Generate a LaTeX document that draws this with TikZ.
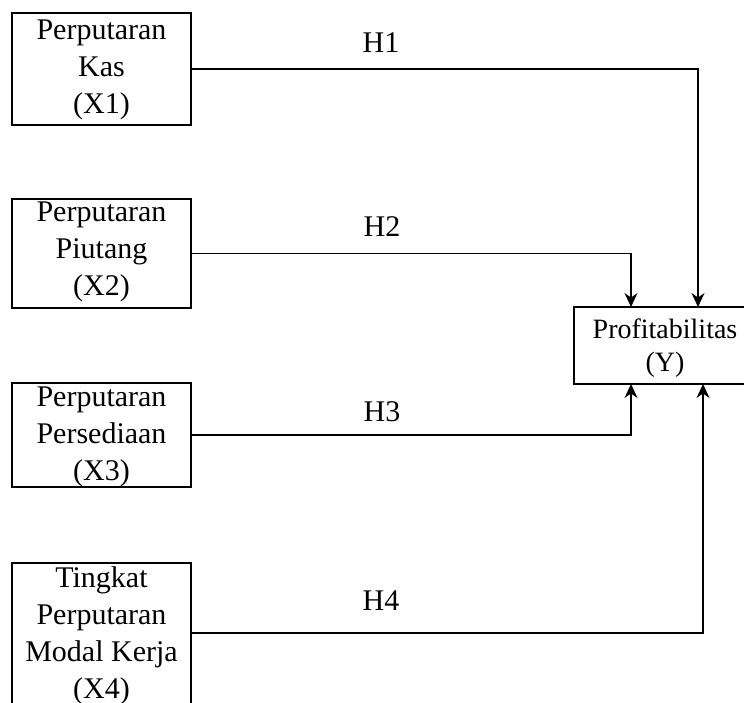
\documentclass[tikz,border=0pt]{standalone}
\usepackage{fontspec}
\setmainfont{Liberation Serif}
\usetikzlibrary{arrows.meta}
\begin{document}
\begin{tikzpicture}[x=1pt,y=-1pt,
  box/.style={draw=black, line width=1.4pt, minimum width=179pt, inner sep=0pt, anchor=center},
  txt/.style={align=center, inner sep=0pt, font=\fontsize{30}{37}\selectfont},
  lbl/.style={inner sep=0pt, font=\fontsize{30}{37}\selectfont},
  conn/.style={line width=1.3pt},
  arr/.style={conn, -{Stealth[length=14pt,width=13pt]}}]
\useasboundingbox (0,0) rectangle (744,702);
\clip (0,0) rectangle (744,702);
% left boxes
\node[box, minimum height=112pt] (b1) at (101.5,69) {};
\node[txt] (t1) at (101.5,70) {Perputaran\\Kas\\(X1)};
\node[box, minimum height=109pt] (b2) at (101.5,253.5) {};
\node[txt] (t2) at (101.5,252) {Perputaran\\Piutang\\(X2)};
\node[box, minimum height=104pt] (b3) at (101.5,435) {};
\node[txt] (t3) at (101.5,437) {Perputaran\\Persediaan\\(X3)};
\node[box, minimum height=146pt] (b4) at (101.5,636) {};
\node[txt] (t4) at (101.5,636) {Tingkat\\Perputaran\\Modal Kerja\\(X4)};
% target box
\node[box, minimum width=182pt, minimum height=77pt] (y) at (665,345.5) {};
\node[txt, font=\fontsize{28}{33}\selectfont] (ty) at (665,348.5) {Profitabilitas\\(Y)};
% arrow end points on the target box
\coordinate (y1) at (698,307);
\coordinate (y2) at (631,307);
\coordinate (y3) at (631,384);
\coordinate (y4) at (703,384);
% connectors
\draw[arr] (b1.east) -| (y1);
\draw[arr] (b2.east) -| (y2);
\draw[arr] (b3.east) -| (y3);
\draw[arr] (b4.east |- 0,633) -| (y4);
% labels
\node[lbl] (h1) at (381,43) {H1};
\node[lbl] (h2) at (382,227) {H2};
\node[lbl] (h3) at (382,412) {H3};
\node[lbl] (h4) at (381,601) {H4};
\end{tikzpicture}
\end{document}
